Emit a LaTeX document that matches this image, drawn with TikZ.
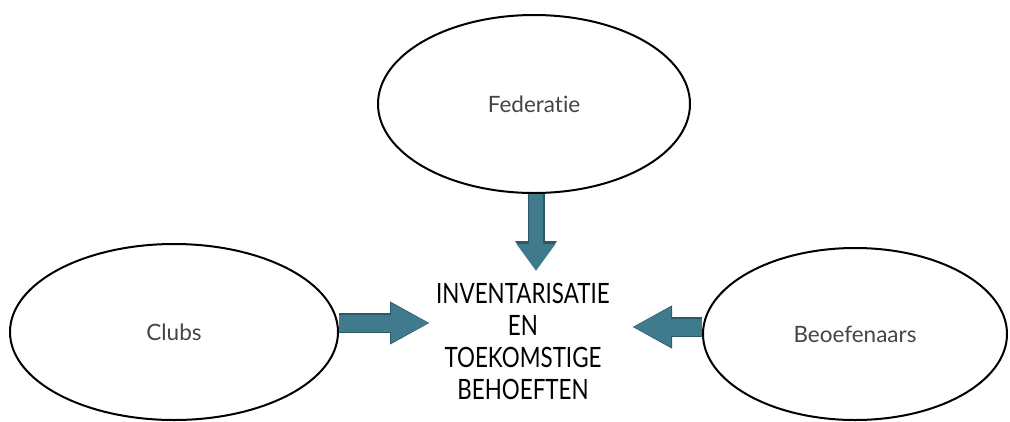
\documentclass[tikz,border=0pt]{standalone}
\usepackage{fontspec}
\setmainfont{Lato}[Ligatures=NoCommon]
\newfontfamily\capfont[FakeStretch=0.8,Ligatures=NoCommon]{Lato}
\usetikzlibrary{shapes.geometric,arrows.meta}
\definecolor{arrowfill}{HTML}{3F7B8D}
\definecolor{arrowedge}{HTML}{2C5868}
\definecolor{labelgray}{HTML}{454545}
\tikzset{
  oval/.style={ellipse, draw=black, line width=2pt, inner sep=0pt, text=labelgray, font=\fontsize{22.5}{26}\selectfont},
  fatedge/.style={draw=arrowedge, line width=20pt, -{Triangle[width=40pt,length=40pt]}},
  fatfill/.style={draw=arrowfill, line width=17pt, -{Triangle[width=37pt,length=38pt]}},
  fatedgev/.style={draw=arrowedge, line width=17pt, -{Triangle[width=40pt,length=29pt]}},
  fatfillv/.style={draw=arrowfill, line width=14pt, -{Triangle[width=37pt,length=27pt]}},
}
\begin{document}
\begin{tikzpicture}[x=1pt,y=-1pt]
\useasboundingbox (0,0) rectangle (1010,421);
\node[oval, minimum width=312pt, minimum height=178pt] (fed) at (534,104) {Federatie};
\node[oval, minimum width=328pt, minimum height=176pt] (clubs) at (174,332) {Clubs};
\node[oval, minimum width=304pt, minimum height=172pt] (beo) at (855,334) {Beoefenaars};
\node[align=center, font=\capfont\fontsize{28}{32}\selectfont, text=black, inner sep=0pt] (inv) at (523,341)
  {INVENTARISATIE\\EN\\TOEKOMSTIGE\\BEHOEFTEN};
\coordinate (tipD) at (536,271);
\coordinate (tipL) at (429,323);
\coordinate (tipR) at (633,327);
\draw[fatedgev] (fed.south -| tipD) -- ([yshift=1pt]tipD);
\draw[fatfillv] (fed.south -| tipD) -- (tipD);
\draw[fatedge] (clubs.east |- tipL) -- ([xshift=1pt]tipL);
\draw[fatfill] (clubs.east |- tipL) -- (tipL);
\draw[fatedge] (beo.west |- tipR) -- ([xshift=-1pt]tipR);
\draw[fatfill] (beo.west |- tipR) -- (tipR);
\end{tikzpicture}
\end{document}
